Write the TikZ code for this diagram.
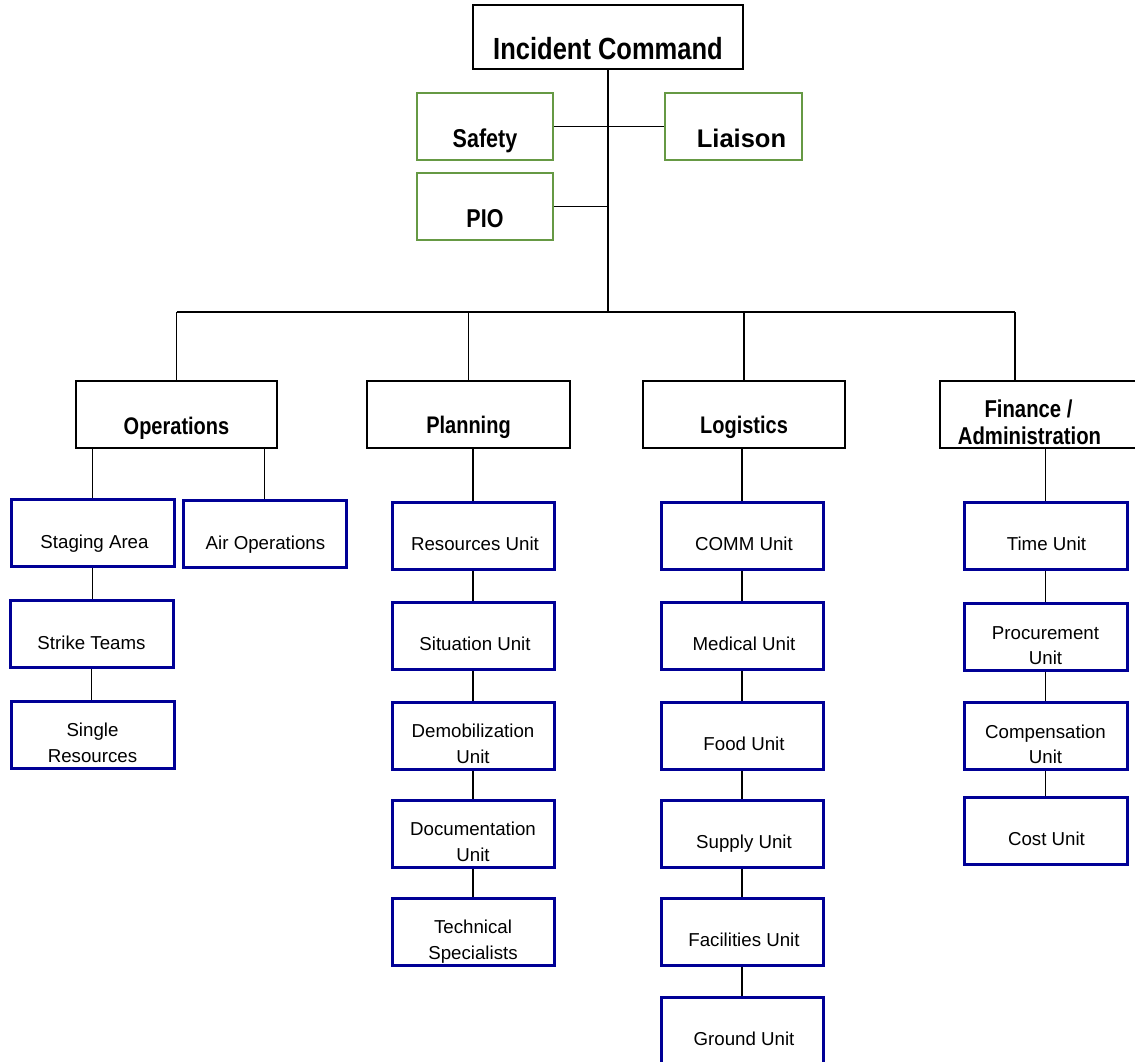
\documentclass[tikz,border=0pt]{standalone}
\usepackage{fontspec}
\setmainfont{Liberation Sans}
\definecolor{navyb}{RGB}{0,0,150}
\definecolor{grn}{RGB}{102,153,68}
\newcommand\vst[1]{\scalebox{1}[1.2]{#1}}
\begin{document}
\begin{tikzpicture}[x=1pt,y=-1pt,
  conn/.style={line width=1.3pt},
  hdr/.style={draw=black, line width=2pt, minimum height=67pt, inner sep=0pt},
  grnbox/.style={draw=grn, line width=2.5pt, minimum width=136pt, minimum height=67pt, inner sep=0pt},
  unit/.style={draw=navyb, line width=3pt, minimum width=162pt, minimum height=67pt, inner sep=0pt},
  ut/.style={font=\fontsize{18.7}{22}\selectfont, anchor=base, inner sep=0pt},
  bt/.style={font=\bfseries\fontsize{20}{24}\selectfont, anchor=base, inner sep=0pt}]
\clip (0,0) rectangle (1135,1061);
\fill[white] (0,0) rectangle (1135,1061);

% top level
\node[hdr, minimum width=270pt, minimum height=64pt] (ic) at (608,37) {};
\node[bt, font=\bfseries\fontsize{25.5}{30}\selectfont] (ic-t) at ([yshift=-22pt]ic.center) {\vst{Incident Command}};

\node[grnbox] (sf) at (485,126.5) {};
\node[bt, font=\bfseries\fontsize{21.5}{26}\selectfont] (sf-t) at ([yshift=-20.5pt]sf.center) {\vst{Safety}};
\node[grnbox, minimum width=137pt] (li) at (733.5,126.5) {};
\node[bt, font=\bfseries\fontsize{25.5}{30}\selectfont] (li-t) at ([xshift=8pt,yshift=-20.5pt]li.center) {Liaison};
\node[grnbox] (pio) at (485,206.5) {};
\node[bt, font=\bfseries\fontsize{21.5}{26}\selectfont] (pio-t) at ([yshift=-20.5pt]pio.center) {\vst{PIO}};

% sections
\node[hdr, minimum width=201pt] (ops) at (176.5,414.5) {};
\node[bt] (ops-t) at ([yshift=-19.5pt]ops.center) {\vst{Operations}};
\node[hdr, minimum width=203pt] (plan) at (468.5,414.5) {};
\node[bt] (plan-t) at ([yshift=-18.5pt]plan.center) {\vst{Planning}};
\node[hdr, minimum width=202pt] (log) at (744,414.5) {};
\node[bt] (log-t) at ([yshift=-18.5pt]log.center) {\vst{Logistics}};
\node[hdr, minimum width=205pt] (fin) at (1042.5,414.5) {};
\node[bt, font=\bfseries\fontsize{20.3}{24}\selectfont] (fin-t1) at ([xshift=-14pt,yshift=-2.5pt]fin.center) {\vst{Finance /}};
\node[bt, font=\bfseries\fontsize{20.3}{24}\selectfont] (fin-t2) at ([xshift=-13pt,yshift=-29.5pt]fin.center) {\vst{Administration}};

% operations units
\node[unit, minimum width=163pt] (sa) at (92.5,532.5) {};
\node[ut] (sa-t) at ([xshift=2pt,yshift=-15.5pt]sa.center) {Staging Area};
\node[unit, minimum width=163pt] (air) at (264.5,533.5) {};
\node[ut] (air-t) at ([xshift=1pt,yshift=-15.5pt]air.center) {Air Operations};
\node[unit, minimum width=163pt] (st) at (91.5,633.5) {};
\node[ut] (st-t) at ([yshift=-15.5pt]st.center) {Strike Teams};
\node[unit, minimum width=163pt] (sr) at (92.5,734.5) {};
\node[ut] (sr-t1) at ([yshift=-2pt]sr.center) {Single};
\node[ut] (sr-t2) at ([yshift=-28pt]sr.center) {Resources};

% planning units
\node[unit] (ru) at (473,535.5) {};
\node[ut] (ru-t) at ([xshift=2pt,yshift=-15pt]ru.center) {Resources Unit};
\node[unit] (su) at (473,635.5) {};
\node[ut] (su-t) at ([xshift=2pt,yshift=-15pt]su.center) {Situation Unit};
\node[unit] (du) at (473,735.5) {};
\node[ut] (du-t1) at ([yshift=-2pt]du.center) {Demobilization};
\node[ut] (du-t2) at ([yshift=-27.5pt]du.center) {Unit};
\node[unit] (docu) at (473,833.5) {};
\node[ut] (docu-t1) at ([yshift=-2pt]docu.center) {Documentation};
\node[ut] (docu-t2) at ([yshift=-27.5pt]docu.center) {Unit};
\node[unit] (ts) at (473,931.5) {};
\node[ut] (ts-t1) at ([yshift=-2pt]ts.center) {Technical};
\node[ut] (ts-t2) at ([yshift=-27.5pt]ts.center) {Specialists};

% logistics units
\node[unit] (cu) at (742,535.5) {};
\node[ut] (cu-t) at ([xshift=2pt,yshift=-15pt]cu.center) {COMM Unit};
\node[unit] (mu) at (742,635.5) {};
\node[ut] (mu-t) at ([xshift=2pt,yshift=-15pt]mu.center) {Medical Unit};
\node[unit] (fu) at (742,735.5) {};
\node[ut] (fu-t) at ([xshift=2pt,yshift=-15pt]fu.center) {Food Unit};
\node[unit] (spu) at (742,833.5) {};
\node[ut] (spu-t) at ([xshift=2pt,yshift=-15pt]spu.center) {Supply Unit};
\node[unit] (fcu) at (742,931.5) {};
\node[ut] (fcu-t) at ([xshift=2pt,yshift=-15pt]fcu.center) {Facilities Unit};
\node[unit] (gu) at (742,1030.5) {};
\node[ut] (gu-t) at ([xshift=2pt,yshift=-15pt]gu.center) {Ground Unit};

% finance units
\node[unit, minimum width=163pt] (tu) at (1045.5,535.5) {};
\node[ut] (tu-t) at ([xshift=1pt,yshift=-15pt]tu.center) {Time Unit};
\node[unit, minimum width=163pt] (pu) at (1045.5,636.5) {};
\node[ut] (pu-t1) at ([yshift=-2.5pt]pu.center) {Procurement};
\node[ut] (pu-t2) at ([yshift=-28pt]pu.center) {Unit};
\node[unit, minimum width=163pt] (cpu) at (1045.5,735.5) {};
\node[ut] (cpu-t1) at ([yshift=-2.5pt]cpu.center) {Compensation};
\node[ut] (cpu-t2) at ([yshift=-28pt]cpu.center) {Unit};
\node[unit, minimum width=163pt] (cou) at (1045.5,831) {};
\node[ut] (cou-t) at ([xshift=1pt,yshift=-14.5pt]cou.center) {Cost Unit};

% connectors
\coordinate (busc) at (608,312);
\coordinate (busL) at (176.5,312);
\coordinate (busR) at (1015,312);
\draw[conn] (ic.south) -- (busc);
\draw[conn] (busL) -- (busR);
\draw[conn] (sf.east) -- (li.west);
\draw[conn] (pio.east) -- (pio.east -| busc);
\draw[conn] (busL) -- (ops.north);
\draw[conn] (plan.north |- busR) -- (plan.north);
\draw[conn] (log.north |- busR) -- (log.north);
\draw[conn] (busR) -- (busR |- fin.north);

\draw[conn] (sa.north |- ops.south) -- (sa.north);
\draw[conn] (air.north |- ops.south) -- (air.north);
\draw[conn] (sa.south) -- (sa.south |- st.north);
\draw[conn] (st.south) -- (st.south |- sr.north);

\draw[conn] (ru.north |- plan.south) -- (ru.north);
\draw[conn] (ru.south) -- (su.north);
\draw[conn] (su.south) -- (du.north);
\draw[conn] (du.south) -- (docu.north);
\draw[conn] (docu.south) -- (ts.north);

\draw[conn] (cu.north |- log.south) -- (cu.north);
\draw[conn] (cu.south) -- (mu.north);
\draw[conn] (mu.south) -- (fu.north);
\draw[conn] (fu.south) -- (spu.north);
\draw[conn] (spu.south) -- (fcu.north);
\draw[conn] (fcu.south) -- (gu.north);

\draw[conn] (tu.north |- fin.south) -- (tu.north);
\draw[conn] (tu.south) -- (pu.north);
\draw[conn] (pu.south) -- (cpu.north);
\draw[conn] (cpu.south) -- (cou.north);
\end{tikzpicture}
\end{document}
